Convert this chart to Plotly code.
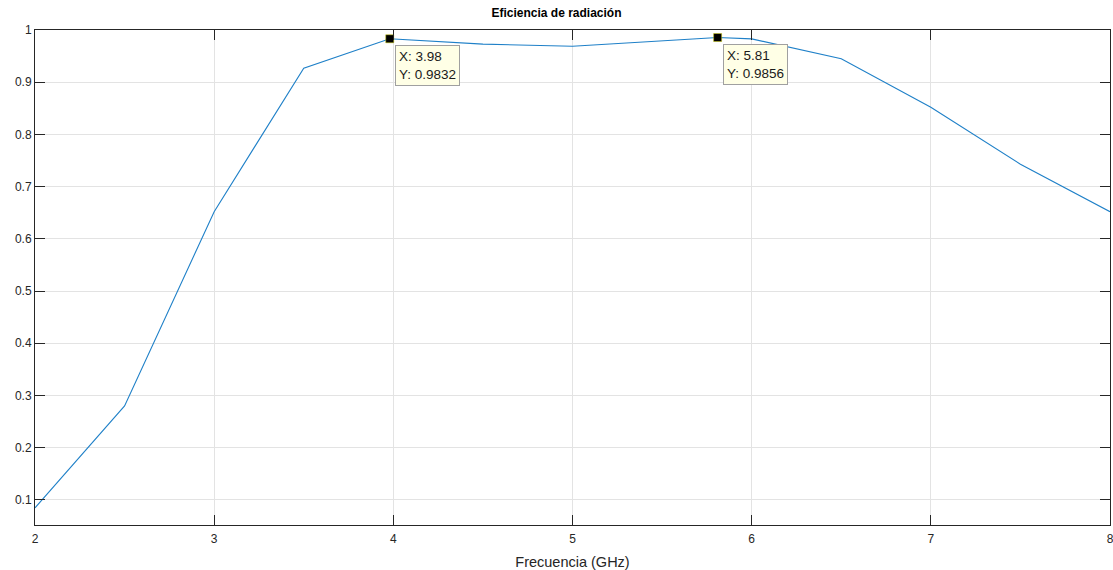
import plotly.graph_objects as go

# Radiation efficiency vs. frequency
freq_ghz = [2.0, 2.5, 3.0, 3.5, 3.98, 4.5, 5.0, 5.81, 6.0, 6.5, 7.0, 7.5, 8.0]
efficiency = [0.085, 0.28, 0.652, 0.927, 0.9832, 0.973, 0.969, 0.9856, 0.983, 0.945, 0.852, 0.743, 0.652]

# Data tips
tip_x = [3.98, 5.81]
tip_y = [0.9832, 0.9856]

x_ticks = [2, 3, 4, 5, 6, 7, 8]
y_ticks = [0.1, 0.2, 0.3, 0.4, 0.5, 0.6, 0.7, 0.8, 0.9, 1.0]
y_tick_labels = ["0.1", "0.2", "0.3", "0.4", "0.5", "0.6", "0.7", "0.8", "0.9", "1"]

FONT = "Liberation Sans, Arial, Helvetica, sans-serif"
AXIS_COLOR = "#262626"

fig = go.Figure()
fig.add_trace(go.Scatter(
    x=freq_ghz, y=efficiency, mode="lines",
    line=dict(color="#1f80c8", width=1.1),
    hoverinfo="skip", showlegend=False,
))
fig.add_trace(go.Scatter(
    x=tip_x, y=tip_y, mode="markers",
    marker=dict(symbol="square", size=8, color="black",
                line=dict(color="#c8c800", width=0.5)),
    hoverinfo="skip", showlegend=False,
))

for tx, ty in zip(tip_x, tip_y):
    fig.add_annotation(
        x=tx, y=ty, xref="x", yref="y",
        text=f"X: {tx:.2f}<br>Y: {ty:.4f}",
        showarrow=False, xanchor="left", yanchor="top",
        xshift=5, yshift=-6, align="left",
        font=dict(family=FONT, size=13.5, color="#1a1a1a"),
        bgcolor="#ffffe6", bordercolor="#a0a0a0", borderwidth=1, borderpad=3,
    )

fig.update_layout(
    width=1113, height=570,
    margin=dict(l=35, r=3, t=30, b=45, autoexpand=False),
    paper_bgcolor="white", plot_bgcolor="white",
    font=dict(family=FONT, color=AXIS_COLOR, size=12),
    title=dict(text="<b>Eficiencia de radiación</b>", x=0.5, xanchor="center",
               y=1 - 13 / 570, yanchor="middle", yref="container",
               font=dict(family=FONT, size=12, color="#000000")),
    xaxis=dict(
        range=[2, 8], tickvals=x_ticks, ticktext=[str(v) for v in x_ticks],
        showgrid=True, gridcolor="#e3e3e3", gridwidth=1,
        zeroline=False, showline=True, linecolor=AXIS_COLOR, linewidth=1,
        mirror="ticks", ticks="inside", ticklen=10, tickcolor=AXIS_COLOR,
        tickfont=dict(size=12, color=AXIS_COLOR), ticklabeloverflow="allow",
        ticklabelstandoff=3, automargin=False,
        title=dict(text="Frecuencia (GHz)", standoff=11,
                   font=dict(size=14.5, color=AXIS_COLOR)),
    ),
    yaxis=dict(
        range=[0.052, 1.0], tickvals=y_ticks, ticktext=y_tick_labels,
        showgrid=True, gridcolor="#e3e3e3", gridwidth=1,
        zeroline=False, showline=True, linecolor=AXIS_COLOR, linewidth=1,
        mirror="ticks", ticks="inside", ticklen=10, tickcolor=AXIS_COLOR,
        tickfont=dict(size=12, color=AXIS_COLOR), ticklabeloverflow="allow",
        automargin=False,
    ),
)

fig.write_html("out.html")
